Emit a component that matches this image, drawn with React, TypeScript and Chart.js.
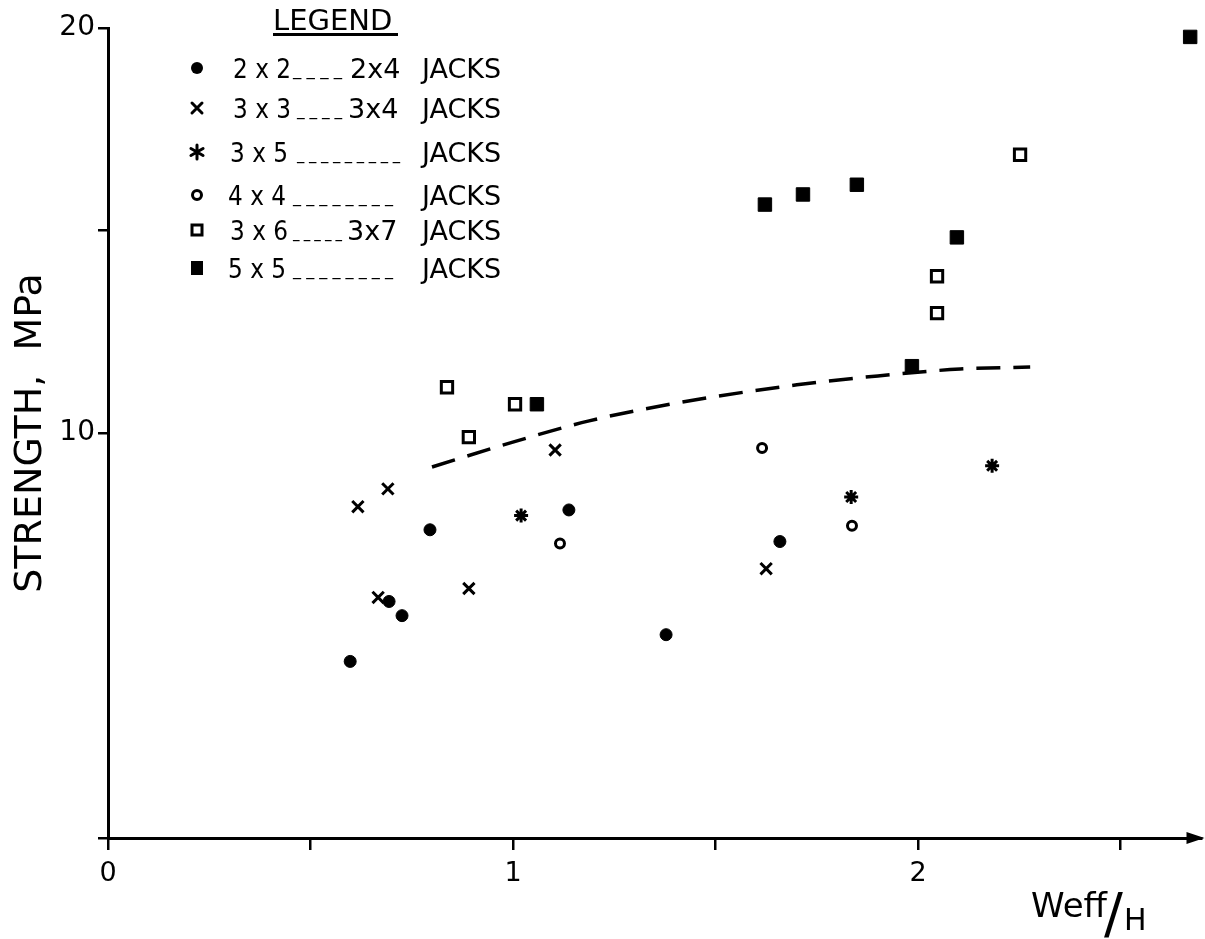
import React, { useEffect, useRef } from "react";
import { Chart, registerables } from "chart.js";

Chart.register(...registerables);

const FONT = '"DejaVu Sans", "Liberation Sans", sans-serif';

// ---- data (x = Weff/H, y = strength MPa) ----
const jacks2x2: [number, number][] = [
  [0.598, 4.36], [0.694, 5.84], [0.726, 5.49], [0.795, 7.61],
  [1.138, 8.1], [1.378, 5.02], [1.659, 7.32],
];
const jacks3x3: [number, number][] = [
  [0.617, 8.18], [0.667, 5.94], [0.691, 8.62], [0.891, 6.16],
  [1.104, 9.58], [1.625, 6.65],
];
const jacks3x5: [number, number][] = [[1.02, 7.96], [1.835, 8.42], [2.183, 9.19]];
const jacks4x4: [number, number][] = [[1.116, 7.27], [1.615, 9.63], [1.837, 7.71]];
const jacks3x6: [number, number][] = [
  [0.837, 11.13], [0.891, 9.9], [1.005, 10.71], [2.047, 12.96],
  [2.047, 13.87], [2.252, 16.87],
];
const jacks5x5: [number, number][] = [
  [1.059, 10.71], [1.622, 15.64], [1.716, 15.89], [1.849, 16.13],
  [1.985, 11.65], [2.096, 14.83], [2.672, 19.78],
];
const trendLine: [number, number][] = [
  [0.8, 9.16], [0.968, 9.68], [1.188, 10.3], [1.405, 10.74],
  [1.701, 11.19], [1.901, 11.41], [2.104, 11.58], [2.277, 11.63],
];

const xTicks = [0, 0.5, 1, 1.5, 2, 2.5];
const xTickLabels = ["0", "", "1", "", "2", ""];
const yTicks = [0, 10, 15, 20];
const yTickLabels = ["", "10", "", "20"];

const yTitle = "STRENGTH,  MPa";
const xTitleMain = "Weff";
const xTitleDen = "H";

const legendTitle = "LEGEND";
const legendFirst = ["2 x 2", "3 x 3", "3 x 5", "4 x 4", "3 x 6", "5 x 5"];
const legendDashes = ["_ _ _ _", "_ _ _ _", "_ _ _ _ _ _ _ _ _", "_ _ _ _ _ _ _ _", "_ _ _ _ _", "_ _ _ _ _ _ _ _"];
const legendSecond = ["2x4", "3x4", "", "", "3x7", ""];
const legendUnit = "JACKS";
const legendMarkers = ["dot", "cross", "star", "ring", "openSquare", "filledSquare"];

// ---- layout constants for hand-placed annotation text ----
const legendRowY = [68, 108, 152, 195, 230, 268];
const legendFirstX = [233, 233, 230, 228, 230, 228];
const legendDashX = [293, 297, 297, 293, 293, 293];
const legendDashW = [49, 45, 103, 100, 49, 100];
const legendSecondX = [350, 348, 0, 0, 347, 0];

function drawMarker(ctx: CanvasRenderingContext2D, kind: string, x: number, y: number) {
  ctx.save();
  ctx.fillStyle = "#000";
  ctx.strokeStyle = "#000";
  ctx.lineWidth = 3;
  ctx.lineCap = "round";
  ctx.beginPath();
  if (kind === "dot") {
    ctx.arc(x, y, 6, 0, Math.PI * 2);
    ctx.fill();
  } else if (kind === "cross") {
    ctx.moveTo(x - 5, y - 5); ctx.lineTo(x + 5, y + 5);
    ctx.moveTo(x + 5, y - 5); ctx.lineTo(x - 5, y + 5);
    ctx.stroke();
  } else if (kind === "star") {
    for (let k = 0; k < 3; k++) {
      const a = (Math.PI / 3) * k + Math.PI / 2;
      ctx.moveTo(x - Math.cos(a) * 7, y - Math.sin(a) * 7);
      ctx.lineTo(x + Math.cos(a) * 7, y + Math.sin(a) * 7);
    }
    ctx.stroke();
  } else if (kind === "ring") {
    ctx.arc(x, y, 4.5, 0, Math.PI * 2);
    ctx.stroke();
  } else if (kind === "openSquare") {
    ctx.rect(x - 5, y - 5, 10, 10);
    ctx.stroke();
  } else {
    ctx.rect(x - 6, y - 7, 12, 14);
    ctx.fill();
  }
  ctx.restore();
}

const overlayPlugin = {
  id: "overlay",
  afterDraw(chart: any) {
    const { ctx, chartArea } = chart;
    ctx.save();
    ctx.fillStyle = "#000";
    ctx.strokeStyle = "#000";
    // arrow head on x axis
    const ay = chartArea.bottom;
    const ax = chartArea.right + 3;
    ctx.beginPath();
    ctx.moveTo(ax, ay);
    ctx.lineTo(ax - 18, ay - 6);
    ctx.lineTo(ax - 18, ay + 6);
    ctx.closePath();
    ctx.fill();

    // legend
    ctx.textAlign = "left";
    ctx.textBaseline = "alphabetic";
    ctx.font = `29px ${FONT}`;
    ctx.fillText(legendTitle, 273, 30, 125);
    ctx.fillRect(273, 33, 125, 3);
    legendFirst.forEach((txt, i) => {
      const cy = legendRowY[i];
      const base = cy + 10;
      drawMarker(ctx, legendMarkers[i], 197, cy);
      ctx.font = `27px ${FONT}`;
      ctx.fillText(txt, legendFirstX[i], base, 58);
      if (legendSecond[i]) ctx.fillText(legendSecond[i], legendSecondX[i], base, 52);
      ctx.fillText(legendUnit, 422, base, 82);
      ctx.font = `18px ${FONT}`;
      ctx.fillText(legendDashes[i], legendDashX[i], base - 3, legendDashW[i]);
    });

    // x axis title  Weff/H
    ctx.font = `34px ${FONT}`;
    ctx.fillText(xTitleMain, 1031, 917, 77);
    ctx.font = `56px ${FONT}`;
    ctx.fillText("/", 1104, 932);
    ctx.font = `30px ${FONT}`;
    ctx.fillText(xTitleDen, 1124, 930);
    ctx.restore();
  },
};

export default function App() {
  const ref = useRef<HTMLCanvasElement | null>(null);

  useEffect(() => {
    document.body.style.margin = "0";
    const canvas = ref.current;
    if (!canvas) return;
    const toPts = (arr: [number, number][]) => arr.map(([x, y]) => ({ x, y }));
    const chart = new Chart(canvas, {
      type: "scatter",
      data: {
        datasets: [
          {
            label: "2 x 2 ---- 2 x 4 JACKS",
            data: toPts(jacks2x2),
            pointStyle: "circle",
            pointRadius: 6,
            backgroundColor: "#000",
            borderColor: "#000",
            borderWidth: 1,
          },
          {
            label: "3 x 3 ---- 3 x 4 JACKS",
            data: toPts(jacks3x3),
            pointStyle: "crossRot",
            pointRadius: 8,
            borderColor: "#000",
            borderWidth: 3,
          },
          {
            label: "3 x 5 JACKS",
            data: toPts(jacks3x5),
            pointStyle: "star",
            pointRadius: 7,
            borderColor: "#000",
            borderWidth: 3,
          },
          {
            label: "4 x 4 JACKS",
            data: toPts(jacks4x4),
            pointStyle: "circle",
            pointRadius: 4.5,
            backgroundColor: "#fff",
            borderColor: "#000",
            borderWidth: 3,
          },
          {
            label: "3 x 6 ---- 3 x 7 JACKS",
            data: toPts(jacks3x6),
            pointStyle: "rect",
            pointRadius: 8,
            backgroundColor: "#fff",
            borderColor: "#000",
            borderWidth: 3,
          },
          {
            label: "5 x 5 JACKS",
            data: toPts(jacks5x5),
            pointStyle: "rect",
            pointRadius: 9.5,
            backgroundColor: "#000",
            borderColor: "#000",
            borderWidth: 1,
          },
          {
            type: "line",
            label: "trend",
            data: toPts(trendLine),
            borderColor: "#000",
            borderWidth: 3.5,
            borderDash: [24, 13],
            pointRadius: 0,
            fill: false,
            tension: 0.4,
            cubicInterpolationMode: "monotone",
          } as any,
        ],
      },
      options: {
        responsive: false,
        animation: false,
        layout: { autoPadding: false, padding: { top: 28, right: 3.5, left: 0, bottom: 0 } },
        plugins: { legend: { display: false }, tooltip: { enabled: false } },
        scales: {
          x: {
            type: "linear",
            min: 0,
            max: 2.7,
            afterFit(s: any) { s.height = 101; s.paddingLeft = 0; s.paddingRight = 0; },
            afterBuildTicks(s: any) { s.ticks = xTicks.map((v) => ({ value: v })); },
            ticks: {
              autoSkip: false,
              maxRotation: 0,
              color: "#000",
              padding: 8,
              font: { family: FONT, size: 27 },
              callback: (v: any) => {
                const i = xTicks.indexOf(Number(v));
                return i >= 0 ? xTickLabels[i] : "";
              },
            },
            grid: { drawOnChartArea: false, drawTicks: true, tickLength: 12, color: "#000", lineWidth: 2.5 },
            border: { display: true, color: "#000", width: 3 },
          },
          y: {
            type: "linear",
            min: 0,
            max: 20,
            afterFit(s: any) { s.width = 108; s.paddingTop = 0; s.paddingBottom = 0; },
            afterBuildTicks(s: any) { s.ticks = yTicks.map((v) => ({ value: v })); },
            ticks: {
              autoSkip: false,
              color: "#000",
              padding: 3,
              font: { family: FONT, size: 28 },
              callback: (v: any) => {
                const i = yTicks.indexOf(Number(v));
                return i >= 0 ? yTickLabels[i] : "";
              },
            },
            grid: { drawOnChartArea: false, drawTicks: true, tickLength: 10, color: "#000", lineWidth: 2.5 },
            border: { display: true, color: "#000", width: 3 },
            title: {
              display: true,
              text: yTitle,
              color: "#000",
              font: { family: FONT, size: 38 },
              padding: { top: 8, bottom: 0 },
            },
          },
        },
      },
      plugins: [overlayPlugin],
    });
    return () => chart.destroy();
  }, []);

  return <canvas ref={ref} width={1205} height={939} style={{ display: "block" }} />;
}
